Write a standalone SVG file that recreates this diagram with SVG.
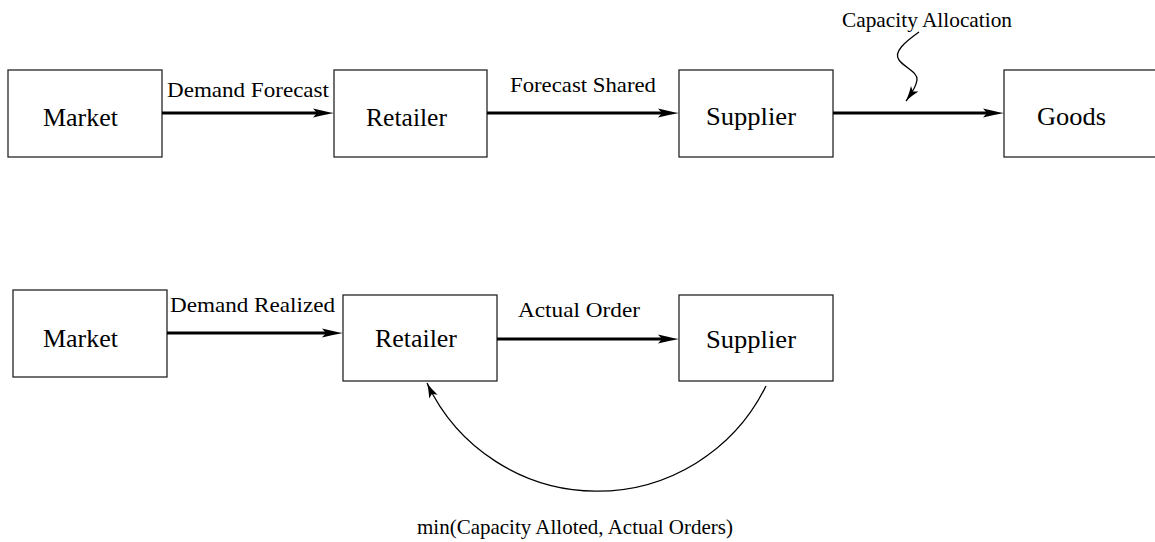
<svg xmlns="http://www.w3.org/2000/svg" width="1155" height="542" viewBox="0 0 1155 542">
  <style>
    .box { fill: #ffffff; stroke: #262626; stroke-width: 1.3; }
    .node { font-family: "Liberation Serif", "Times New Roman", serif; font-size: 25px; fill: #000; }
    .lbl { font-family: "Liberation Serif", "Times New Roman", serif; font-size: 21px; fill: #000; }
    .flow { fill: none; stroke: #000; stroke-width: 3.2; marker-end: url(#bigHead); }
    .thin { fill: none; stroke: #000; stroke-width: 1.3; marker-end: url(#smallHead); }
  </style>
  <defs>
    <!-- stealth-style head for the thick flow arrows; notch sits on the line end -->
    <marker id="bigHead" markerUnits="userSpaceOnUse" orient="auto" refX="4" refY="0" markerWidth="30" markerHeight="30" overflow="visible">
      <path d="M21 0 C15 -1 7 -3 0 -4.6 L4 0 L0 4.6 C7 3 15 1 21 0 Z" fill="#000"/>
    </marker>
    <!-- smaller head for the thin curved arrows; tip sits on the path end -->
    <marker id="smallHead" markerUnits="userSpaceOnUse" orient="auto" refX="15" refY="0" markerWidth="24" markerHeight="24" overflow="visible">
      <path d="M15 0 C10 -1 5 -2.6 0 -4.6 L3.2 0 L0 4.6 C5 2.6 10 1 15 0 Z" fill="#000"/>
    </marker>
  </defs>

  <!-- planning stage -->
  <g id="market-top">
    <rect class="box" x="8" y="70" width="154" height="87"/>
    <text class="node" x="43" y="126" textLength="75" lengthAdjust="spacingAndGlyphs">Market</text>
  </g>
  <g id="retailer-top">
    <rect class="box" x="334" y="70" width="153" height="87"/>
    <text class="node" x="366" y="126" textLength="81" lengthAdjust="spacingAndGlyphs">Retailer</text>
  </g>
  <g id="supplier-top">
    <rect class="box" x="679" y="70" width="154" height="87"/>
    <text class="node" x="706" y="125" textLength="90" lengthAdjust="spacingAndGlyphs">Supplier</text>
  </g>
  <g id="goods-top">
    <rect class="box" x="1004" y="70" width="160" height="87"/>
    <text class="node" x="1037" y="125" textLength="69" lengthAdjust="spacingAndGlyphs">Goods</text>
  </g>

  <!-- execution stage -->
  <g id="market-bottom">
    <rect class="box" x="13" y="290" width="154" height="87"/>
    <text class="node" x="43" y="347" textLength="75" lengthAdjust="spacingAndGlyphs">Market</text>
  </g>
  <g id="retailer-bottom">
    <rect class="box" x="343" y="295" width="154" height="86"/>
    <text class="node" x="375" y="347" textLength="82" lengthAdjust="spacingAndGlyphs">Retailer</text>
  </g>
  <g id="supplier-bottom">
    <rect class="box" x="679" y="295" width="154" height="86"/>
    <text class="node" x="706" y="348" textLength="90" lengthAdjust="spacingAndGlyphs">Supplier</text>
  </g>

  <g id="connectors">
    <!-- top row flows -->
    <line class="flow" x1="162" y1="113" x2="317" y2="113"/>
    <line class="flow" x1="487" y1="113" x2="662" y2="113"/>
    <line class="flow" x1="833" y1="113" x2="987" y2="113"/>
    <path class="thin" d="M919 32 C905 42 893 52 899 60 C905 68 918 72 917 80 C916 88 911 94 906 101"/>
    <!-- bottom row flows -->
    <line class="flow" x1="167" y1="333" x2="326" y2="333"/>
    <line class="flow" x1="497" y1="339" x2="662" y2="339"/>
    <path class="thin" d="M766 386 A188 188 0 0 1 427 383"/>
  </g>

  <g id="labels">
    <text class="lbl" x="167" y="97" textLength="162" lengthAdjust="spacingAndGlyphs">Demand Forecast</text>
    <text class="lbl" x="510" y="92" textLength="146" lengthAdjust="spacingAndGlyphs">Forecast Shared</text>
    <text class="lbl" x="842" y="27" textLength="170" lengthAdjust="spacingAndGlyphs">Capacity Allocation</text>
    <text class="lbl" x="170" y="312" textLength="165" lengthAdjust="spacingAndGlyphs">Demand Realized</text>
    <text class="lbl" x="518" y="317" textLength="122" lengthAdjust="spacingAndGlyphs">Actual Order</text>
    <text class="lbl" x="417" y="534" textLength="316" lengthAdjust="spacingAndGlyphs">min(Capacity Alloted, Actual Orders)</text>
  </g>
</svg>
